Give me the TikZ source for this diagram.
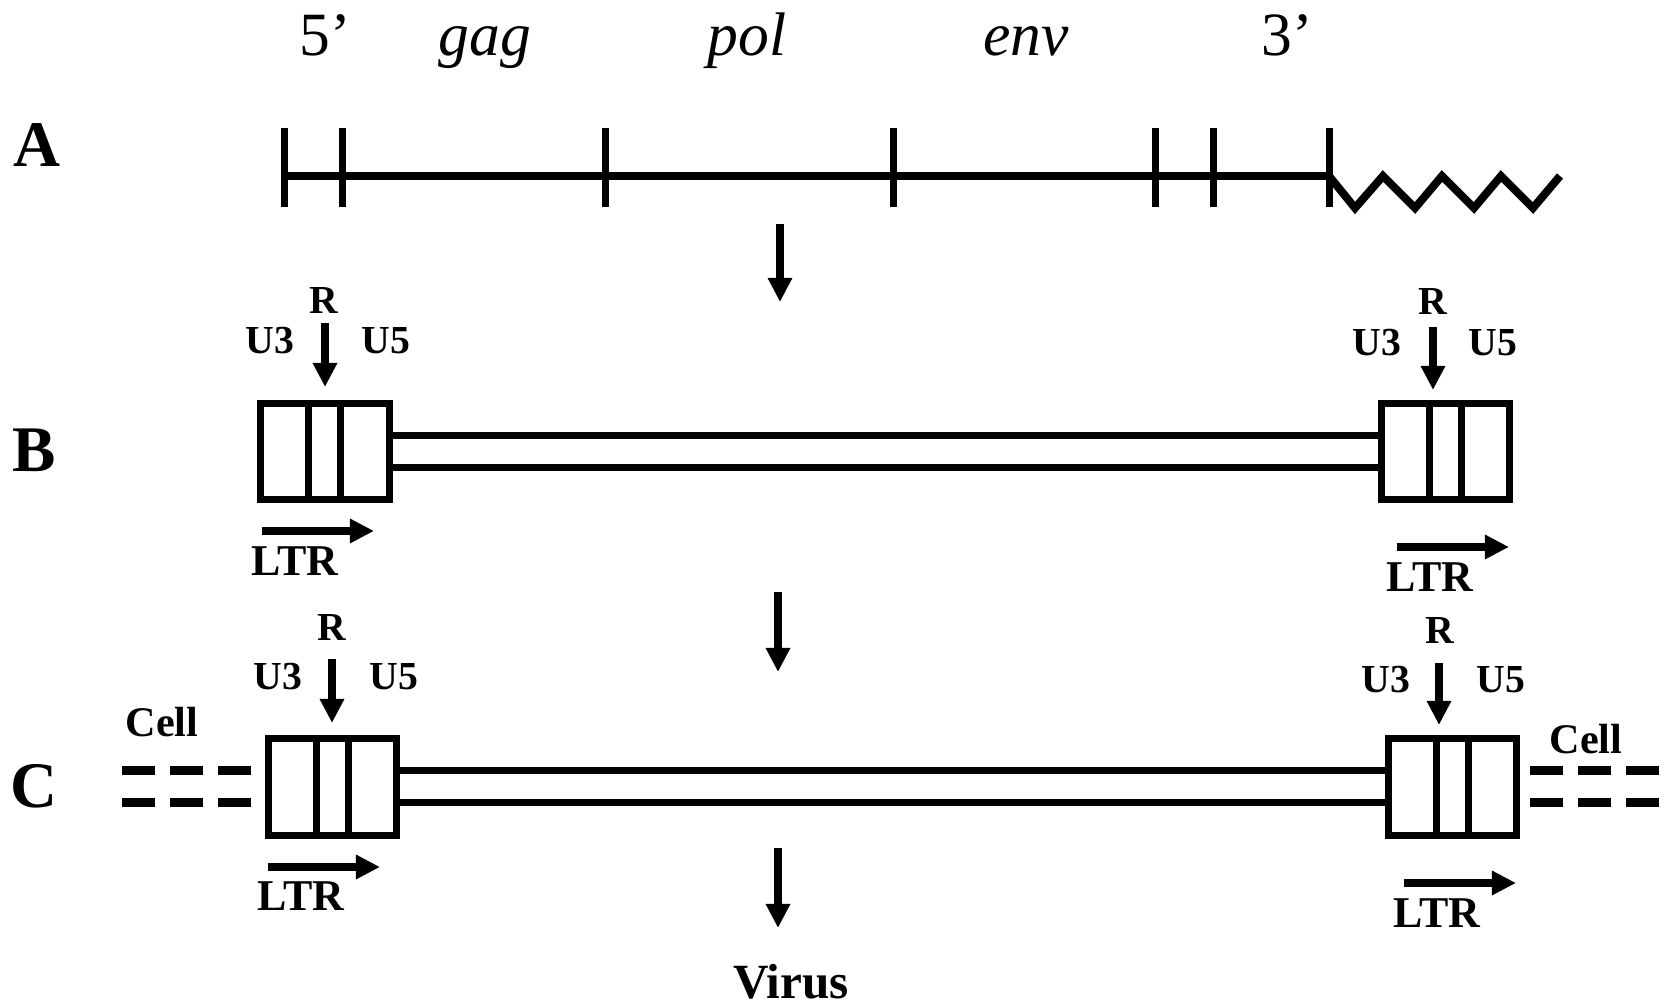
\documentclass[tikz,border=0pt]{standalone}
\usepackage{fontspec}
\setmainfont{Liberation Serif}
\usetikzlibrary{arrows.meta,calc}

\begin{document}
\begin{tikzpicture}[x=0.01cm,y=-0.01cm,
  rowlab/.style={font=\fontsize{18.5}{20}\selectfont\bfseries, anchor=base, inner sep=0pt},
  gene/.style={font=\fontsize{17.5}{20}\selectfont, anchor=base, inner sep=0pt},
  seglab/.style={font=\fontsize{11.3}{13}\selectfont\bfseries, anchor=base, inner sep=0pt},
  ltrlab/.style={font=\fontsize{12.5}{14}\selectfont\bfseries, anchor=base, inner sep=0pt},
  celllab/.style={font=\fontsize{12}{14}\selectfont\bfseries, anchor=base, inner sep=0pt},
  viruslab/.style={font=\fontsize{14}{16}\selectfont\bfseries, anchor=base, inner sep=0pt},
  ltrbox/.style={draw, line width=0.07cm, minimum width=1.28cm, minimum height=0.96cm,
    inner sep=0pt, outer sep=0pt},
  strand/.style={line width=0.07cm},
  rnaline/.style={line width=0.08cm},
  tick/.style={line width=0.07cm},
  cellstrand/.style={line width=0.09cm, dash pattern=on 0.33cm off 0.15cm},
  arr/.style={line width=0.075cm, -{Triangle[length=0.24cm,width=0.23cm]}}
]
\useasboundingbox (0,0) rectangle (1675,1007);

% ---------- row labels ----------
\node[rowlab] (labA) at (37,167) {A};
\node[rowlab] (labB) at (34,472) {B};
\node[rowlab] (labC) at (34,808) {C};

% ---------- A: genomic RNA ----------
\node[gene] (g5) at (325,56) {5’};
\node[gene] (ggag) at (485,56) {\itshape gag};
\node[gene] (gpol) at (747,56) {\itshape pol};
\node[gene] (genv) at (1026,56) {\itshape env};
\node[gene] (g3) at (1287,56) {3’};

\coordinate (rnaS) at (284,176);
\coordinate (rnaE) at (1329,176);
\draw[rnaline] (rnaS) -- (rnaE);
\foreach \tx in {284,342,605,893,1155,1213,1329}
  \draw[tick] (\tx,128) -- (\tx,207);
% poly(A) tail
\draw[rnaline, line join=miter] (rnaE) -- (1355,208) -- (1383,176) -- (1415,208) -- (1442,176)
  -- (1474,208) -- (1501,176) -- (1533,208) -- (1560,176);

% ---------- B: proviral DNA ----------
\node[ltrbox] (bl) at (325,451.5) {};
\node[ltrbox] (br) at (1445.5,451.5) {};

% ---------- C: integrated provirus ----------
\node[ltrbox] (cl) at (332.5,787) {};
\node[ltrbox] (cr) at (1452.5,787) {};

% LTR subdivisions U3 | R | U5
\foreach \b in {bl,br,cl,cr}
  \foreach \d in {48,80}
    \draw[strand] ($(\b.north west)+(\d,0)$) -- ($(\b.south west)+(\d,0)$);

% double strands between the LTRs
\draw[strand] ($(bl.east)+(0,-16)$) -- ($(br.west)+(0,-16)$);
\draw[strand] ($(bl.east)+(0,16)$) -- ($(br.west)+(0,16)$);
\draw[strand] ($(cl.east)+(0,-16)$) -- ($(cr.west)+(0,-16)$);
\draw[strand] ($(cl.east)+(0,16)$) -- ($(cr.west)+(0,16)$);

% flanking cellular DNA
\coordinate (cellLa) at (122,771);  \coordinate (cellLb) at (251,771);
\coordinate (cellLc) at (122,803);  \coordinate (cellLd) at (251,803);
\coordinate (cellRa) at (1530,771); \coordinate (cellRb) at (1659,771);
\coordinate (cellRc) at (1530,803); \coordinate (cellRd) at (1659,803);
\draw[cellstrand] (cellLa) -- (cellLb);
\draw[cellstrand] (cellLc) -- (cellLd);
\draw[cellstrand] (cellRa) -- (cellRb);
\draw[cellstrand] (cellRc) -- (cellRd);
\node[celllab] (cellL) at (162,737) {Cell};
\node[celllab] (cellR) at (1586,754) {Cell};

% ---------- LTR segment labels ----------
\node[seglab] (rbl) at (324,314) {R};
\node[seglab] (u3bl) at (270,354) {U3};
\node[seglab] (u5bl) at (386,354) {U5};
\node[seglab] (rbr) at (1433,315) {R};
\node[seglab] (u3br) at (1377,356) {U3};
\node[seglab] (u5br) at (1493,356) {U5};
\node[seglab] (rcl) at (332,641) {R};
\node[seglab] (u3cl) at (278,690) {U3};
\node[seglab] (u5cl) at (394,690) {U5};
\node[seglab] (rcr) at (1440,644) {R};
\node[seglab] (u3cr) at (1386,693) {U3};
\node[seglab] (u5cr) at (1501,693) {U5};

\coordinate (rblS) at (325,323);  \coordinate (rblE) at (325,387);
\coordinate (rbrS) at (1433,327); \coordinate (rbrE) at (1433,390);
\coordinate (rclS) at (332,659);  \coordinate (rclE) at (332,723);
\coordinate (rcrS) at (1439,663); \coordinate (rcrE) at (1439,725);
\draw[arr] (rblS) -- (rblE);
\draw[arr] (rbrS) -- (rbrE);
\draw[arr] (rclS) -- (rclE);
\draw[arr] (rcrS) -- (rcrE);

% ---------- LTR orientation arrows ----------
\coordinate (lblS) at (262,531);  \coordinate (lblE) at (374,531);
\coordinate (lbrS) at (1397,547); \coordinate (lbrE) at (1509,547);
\coordinate (lclS) at (268,867);  \coordinate (lclE) at (380,867);
\coordinate (lcrS) at (1404,883); \coordinate (lcrE) at (1516,883);
\draw[arr] (lblS) -- (lblE);
\draw[arr] (lbrS) -- (lbrE);
\draw[arr] (lclS) -- (lclE);
\draw[arr] (lcrS) -- (lcrE);
\node[ltrlab] (ltrbl) at (295,576) {LTR};
\node[ltrlab] (ltrbr) at (1430,592) {LTR};
\node[ltrlab] (ltrcl) at (301,911) {LTR};
\node[ltrlab] (ltrcr) at (1437,928) {LTR};

% ---------- process arrows ----------
\node[viruslab] (virus) at (791,999) {Virus};
\coordinate (stepAs) at (780,224); \coordinate (stepAe) at (780,302);
\coordinate (stepBs) at (778,592); \coordinate (stepBe) at (778,672);
\coordinate (stepCs) at (778,848); \coordinate (stepCe) at (778,928);
\draw[arr] (stepAs) -- (stepAe);
\draw[arr] (stepBs) -- (stepBe);
\draw[arr] (stepCs) -- (stepCe);
\end{tikzpicture}
\end{document}
